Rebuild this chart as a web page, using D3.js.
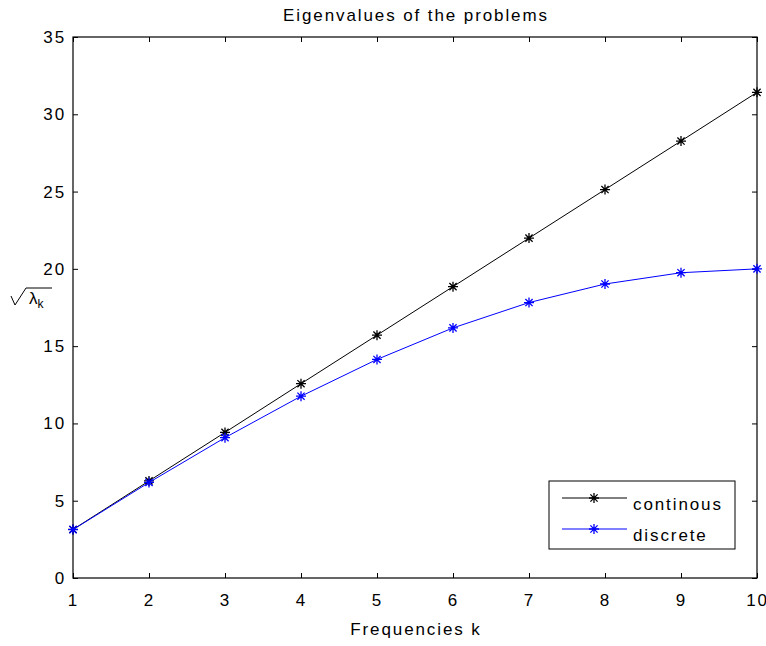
<!DOCTYPE html>
<html>
<head>
<meta charset="utf-8">
<script src="https://cdn.jsdelivr.net/npm/d3@7"></script>
<style>
  body { margin: 0; background: #fff; }
  text { font-family: "Liberation Sans", Arial, sans-serif; fill: #000; letter-spacing: 1.9px; }
</style>
</head>
<body>
<svg id="chart" width="766" height="646"></svg>
<script>
const ks = [1, 2, 3, 4, 5, 6, 7, 8, 9, 10];
const continous = [3.14, 6.28, 9.42, 12.57, 15.71, 18.85, 21.99, 25.13, 28.27, 31.42];
const discrete = [3.13, 6.18, 9.08, 11.76, 14.14, 16.18, 17.82, 19.02, 19.75, 20.0];
const xTicks = [1, 2, 3, 4, 5, 6, 7, 8, 9, 10];
const yTicks = [0, 5, 10, 15, 20, 25, 30, 35];

const series = [
  { name: 'continous', values: continous, color: '#000' },
  { name: 'discrete', values: discrete, color: '#0000ff' }
];

const svg = d3.select('#chart');
const pLeft = 73, pRight = 757, pTop = 37, pBottom = 578;
const fs = '17px';

const x = d3.scaleLinear().domain([1, 10]).range([pLeft, pRight]);
const y = d3.scaleLinear().domain([0, 35]).range([pBottom, pTop]);

// box + ticks (matlab style, inward)
const tickLen = 5;
svg.append('g')
  .attr('transform', `translate(0,${pBottom})`)
  .call(d3.axisBottom(x).tickValues(xTicks).tickSizeInner(-tickLen).tickSizeOuter(0).tickPadding(16))
  .call(g => g.select('.domain').remove());
svg.append('g')
  .attr('transform', `translate(0,${pTop})`)
  .call(d3.axisTop(x).tickValues(xTicks).tickSizeInner(-tickLen).tickSizeOuter(0).tickFormat(''))
  .call(g => g.select('.domain').remove());
svg.append('g')
  .attr('transform', `translate(${pLeft},0)`)
  .call(d3.axisLeft(y).tickValues(yTicks).tickSizeInner(-tickLen).tickSizeOuter(0).tickPadding(7))
  .call(g => g.select('.domain').remove());
svg.append('g')
  .attr('transform', `translate(${pRight},0)`)
  .call(d3.axisRight(y).tickValues(yTicks).tickSizeInner(-tickLen).tickSizeOuter(0).tickFormat(''))
  .call(g => g.select('.domain').remove());

svg.selectAll('.tick line').attr('stroke', '#000').attr('stroke-width', 1);
svg.selectAll('.tick text').style('font-size', fs).attr('fill', '#000');

svg.append('rect')
  .attr('x', pLeft).attr('y', pTop)
  .attr('width', pRight - pLeft).attr('height', pBottom - pTop)
  .attr('fill', 'none').attr('stroke', '#000').attr('stroke-width', 1.2);

const line = d3.line().x((d, i) => x(ks[i])).y(d => y(d));

function star(g, cx, cy, color) {
  const r = 5, d = 3.6;
  const p = `M${cx - r},${cy}L${cx + r},${cy}M${cx},${cy - r}L${cx},${cy + r}` +
    `M${cx - d},${cy - d}L${cx + d},${cy + d}M${cx - d},${cy + d}L${cx + d},${cy - d}`;
  g.append('path').attr('d', p).attr('stroke', color).attr('stroke-width', 1.3).attr('fill', 'none');
}

series.forEach(s => {
  const g = svg.append('g');
  g.append('path')
    .datum(s.values)
    .attr('d', line)
    .attr('fill', 'none')
    .attr('stroke', s.color)
    .attr('stroke-width', 1);
  s.values.forEach((v, i) => star(g, x(ks[i]), y(v), s.color));
});

// legend
const lg = svg.append('g');
lg.append('rect')
  .attr('x', 549).attr('y', 481).attr('width', 186).attr('height', 68)
  .attr('fill', '#fff').attr('stroke', '#000').attr('stroke-width', 1);
series.forEach((s, i) => {
  const ly = 498 + i * 31;
  lg.append('line').attr('x1', 562).attr('x2', 627).attr('y1', ly).attr('y2', ly)
    .attr('stroke', s.color).attr('stroke-width', 1);
  star(lg, 594, ly, s.color);
  lg.append('text').attr('x', 633).attr('y', ly + 12)
    .style('font-size', fs).text(s.name);
});

// title and labels
svg.append('text')
  .attr('x', (pLeft + pRight) / 2 + 1).attr('y', 21)
  .attr('text-anchor', 'middle').style('font-size', fs)
  .text('Eigenvalues of the problems');

svg.append('text')
  .attr('x', (pLeft + pRight) / 2 + 1).attr('y', 635)
  .attr('text-anchor', 'middle').style('font-size', fs)
  .text('Frequencies k');

// sqrt(lambda_k) label
const yl = svg.append('g');
yl.append('path')
  .attr('d', 'M11,296L15,305L26,288L52,288')
  .attr('fill', 'none').attr('stroke', '#000').attr('stroke-width', 1);
const lt = yl.append('text').attr('x', 29).attr('y', 304).style('font-size', fs).style('letter-spacing', '0px');
lt.append('tspan').text('λ');
lt.append('tspan').attr('dy', 4).style('font-size', '12px').text('k');
</script>
</body>
</html>
